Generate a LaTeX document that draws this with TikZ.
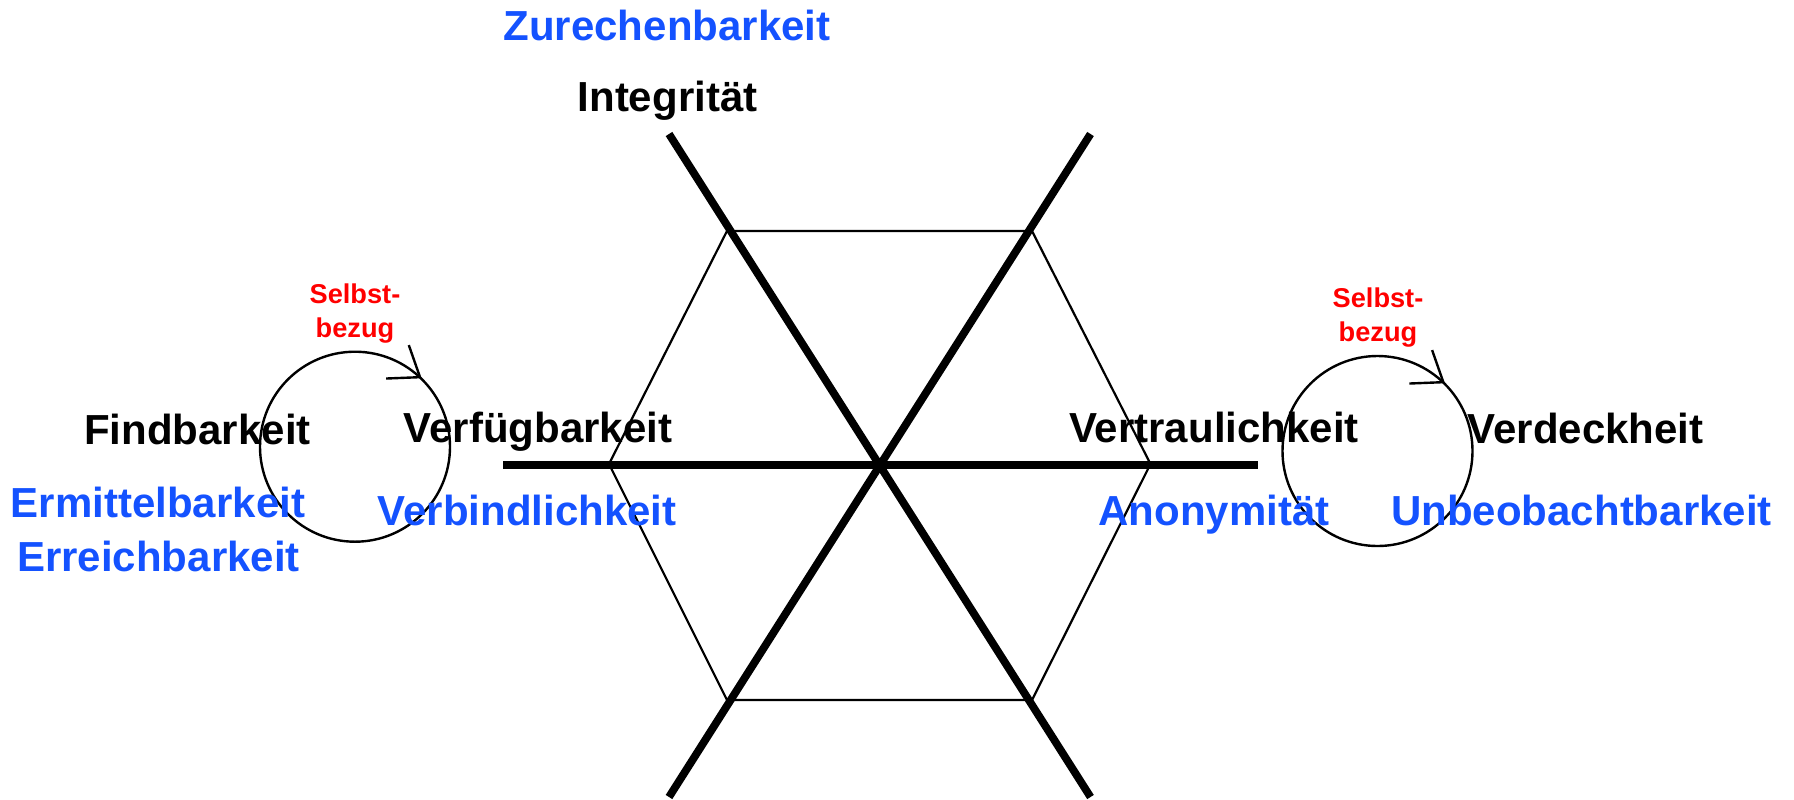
\documentclass[tikz,border=0pt]{standalone}
\usepackage{fontspec}
\setmainfont{Liberation Sans}
\usetikzlibrary{arrows.meta,calc}
\definecolor{protBlue}{HTML}{1452FF}
\definecolor{protRed}{HTML}{FF0000}
\tikzset{
  goalText/.style={
    anchor=base,
    inner sep=0pt,
    font=\bfseries\fontsize{21pt}{25pt}\selectfont
  },
  goalBlack/.style={
    goalText,
    text=black
  },
  goalBlue/.style={
    goalText,
    text=protBlue
  },
  goalNote/.style={
    anchor=base,
    inner sep=0pt,
    align=center,
    text=protRed,
    font=\bfseries\fontsize{13.6pt}{17pt}\selectfont
  },
  goalAxis/.style={
    line width=3.9pt,
    draw=black
  },
  goalHex/.style={
    line width=1.1pt,
    draw=black
  },
  goalLoop/.style={
    circle,
    draw=black,
    line width=1.2pt,
    minimum size=95pt,
    inner sep=0pt
  },
  goalLoopArrow/.style={
    -{Straight Barb[angle=73:17pt]},
    line width=1.2pt,
    draw=black
  }
}

\begin{document}
\begin{tikzpicture}[x=0.5pt, y=-0.5pt]
  \useasboundingbox (0,0) rectangle (1794,799);

  % axes
  \coordinate (axTL) at (669,134);
  \coordinate (axTR) at (1090.5,134);
  \coordinate (axBL) at (669,797);
  \coordinate (axBR) at (1090.5,797);
  \coordinate (axL) at (503,465);
  \coordinate (axR) at (1258,465);

  % hexagon
  \coordinate (hxTL) at (727,231);
  \coordinate (hxTR) at (1032,231);
  \coordinate (hxR) at (1150.5,464);
  \coordinate (hxBR) at (1032,700);
  \coordinate (hxBL) at (727,700);
  \coordinate (hxL) at (609,464);

  \draw[goalHex] (hxTL) -- (hxTR) -- (hxR) -- (hxBR) -- (hxBL) -- (hxL) -- cycle;
  \draw[goalAxis] (axTL) -- (axBR);
  \draw[goalAxis] (axTR) -- (axBL);
  \draw[goalAxis] (axL) -- (axR);

  % self-reference loops
  \node[goalLoop] (lLoop) at (355,446.7) {};
  \node[goalLoop] (rLoop) at (1377.5,451) {};
  \coordinate (lTip) at (421.7,378.3);
  \coordinate (lTail) at (419.2,376.6);
  \coordinate (rTip) at (1445,383.3);
  \coordinate (rTail) at (1442.5,381.6);
  \draw[goalLoopArrow] (lTail) -- (lTip);
  \draw[goalLoopArrow] (rTail) -- (rTip);

  \node[goalNote] (lNote) at (355,337) {Selbst-\\bezug};
  \node[goalNote] (rNote) at (1378,341) {Selbst-\\bezug};

  % labels
  \node[goalBlue] (zurech) at (667,40) {Zurechenbarkeit};
  \node[goalBlack] (integ) at (667.5,111) {Integrität};
  \node[goalBlack] (findb) at (197.5,444) {Findbarkeit};
  \node[goalBlack] (verfueg) at (538,442) {Verfügbarkeit};
  \node[goalBlue] (ermitt) at (158,517) {Ermittelbarkeit};
  \node[goalBlue] (erreich) at (158.5,571) {Erreichbarkeit};
  \node[goalBlue] (verbind) at (527,525) {Verbindlichkeit};
  \node[goalBlack] (vertraul) at (1214,442) {Vertraulichkeit};
  \node[goalBlue] (anonym) at (1214,525) {Anonymität};
  \node[goalBlack] (verdeck) at (1585.5,443) {Verdeckheit};
  \node[goalBlue] (unbeob) at (1581.5,525) {Unbeobachtbarkeit};
\end{tikzpicture}
\end{document}
